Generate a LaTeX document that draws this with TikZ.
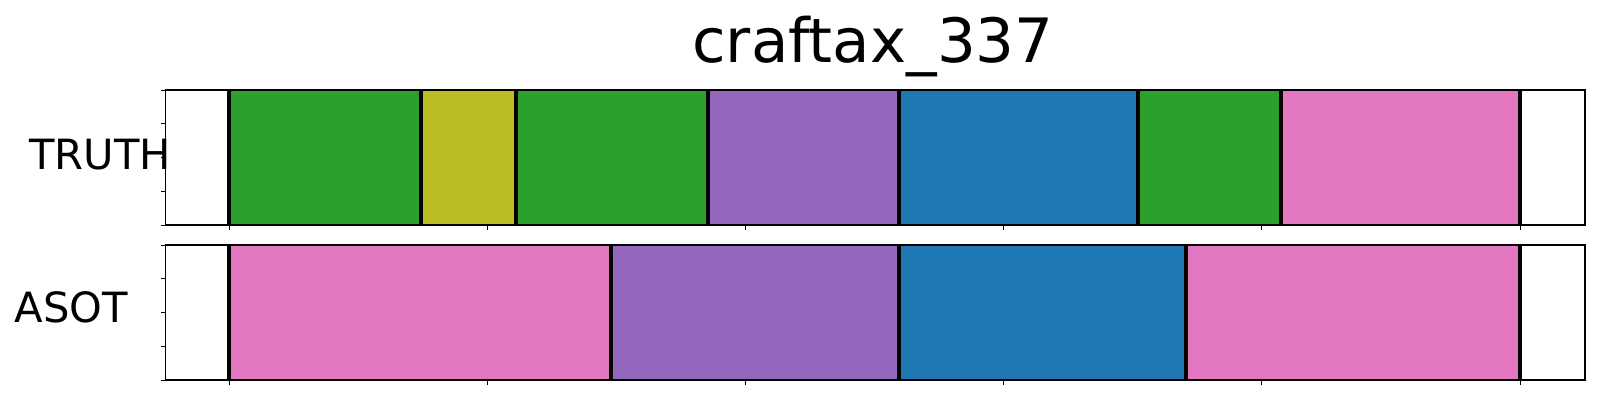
\documentclass[tikz,border=0pt]{standalone}
\usepackage{fontspec}
\setmainfont{DejaVu Sans}
\usepackage{tikz}
\usetikzlibrary{positioning}

\definecolor{tabgreen}{HTML}{2CA02C}
\definecolor{tabolive}{HTML}{BCBD22}
\definecolor{tabpurple}{HTML}{9467BD}
\definecolor{tabblue}{HTML}{1F77B4}
\definecolor{tabpink}{HTML}{E377C2}

\begin{document}
\begin{tikzpicture}[x=0.72pt, y=-0.72pt,
    cut/.style={line width=2.9pt, black},
    frame/.style={line width=1.1pt, black},
    tickmark/.style={line width=0.6pt, black},
    lab/.style={inner sep=0pt, font=\fontsize{30}{36}\selectfont}]

        \useasboundingbox (0,0) rectangle (1600,400);

        \node[inner sep=0pt, anchor=base, font=\fontsize{44}{52}\selectfont] (title) at (873,62.7) {craftax\_337};

        \node[lab, anchor=base west] (lab_truth) at (29,169.3)   {TRUTH};
        \node[lab, anchor=base west] (lab_asot)  at (14.5,322.3) {ASOT};

        % truth row
        \fill[tabgreen]  (229,90)    rectangle (420.7,225);
        \fill[tabolive]  (420.7,90)  rectangle (515.7,225);
        \fill[tabgreen]  (515.7,90)  rectangle (708,225);
        \fill[tabpurple] (708,90)    rectangle (899,225);
        \fill[tabblue]   (899,90)    rectangle (1137.7,225);
        \fill[tabgreen]  (1137.7,90) rectangle (1281,225);
        \fill[tabpink]   (1281,90)   rectangle (1520,225);

        \foreach \c in {229,420.7,515.7,708,899,1137.7,1281,1520}
          \draw[cut] (\c,90) -- (\c,225);

        % asot row
        \fill[tabpink]   (229,245)    rectangle (611.4,380);
        \fill[tabpurple] (611.4,245)  rectangle (899,380);
        \fill[tabblue]   (899,245)    rectangle (1185.7,380);
        \fill[tabpink]   (1185.7,245) rectangle (1520,380);

        \foreach \c in {229,611.4,899,1185.7,1520}
          \draw[cut] (\c,245) -- (\c,380);

        % frames and ticks
        \draw[frame] (165.5,90)  rectangle (1585,225);
        \draw[frame] (165.5,245) rectangle (1585,380);

        \foreach \t in {229,487.2,745.4,1003.6,1261.8,1520} {
          \draw[tickmark] (\t,225) -- ++(0,4.9);
          \draw[tickmark] (\t,380) -- ++(0,4.9);
        }
        \foreach \v in {0,33.75,67.5,101.25,135} {
          \draw[tickmark] (165.5,{90+\v})  -- ++(-4.9,0);
          \draw[tickmark] (165.5,{245+\v}) -- ++(-4.9,0);
        }

\end{tikzpicture}
\end{document}
